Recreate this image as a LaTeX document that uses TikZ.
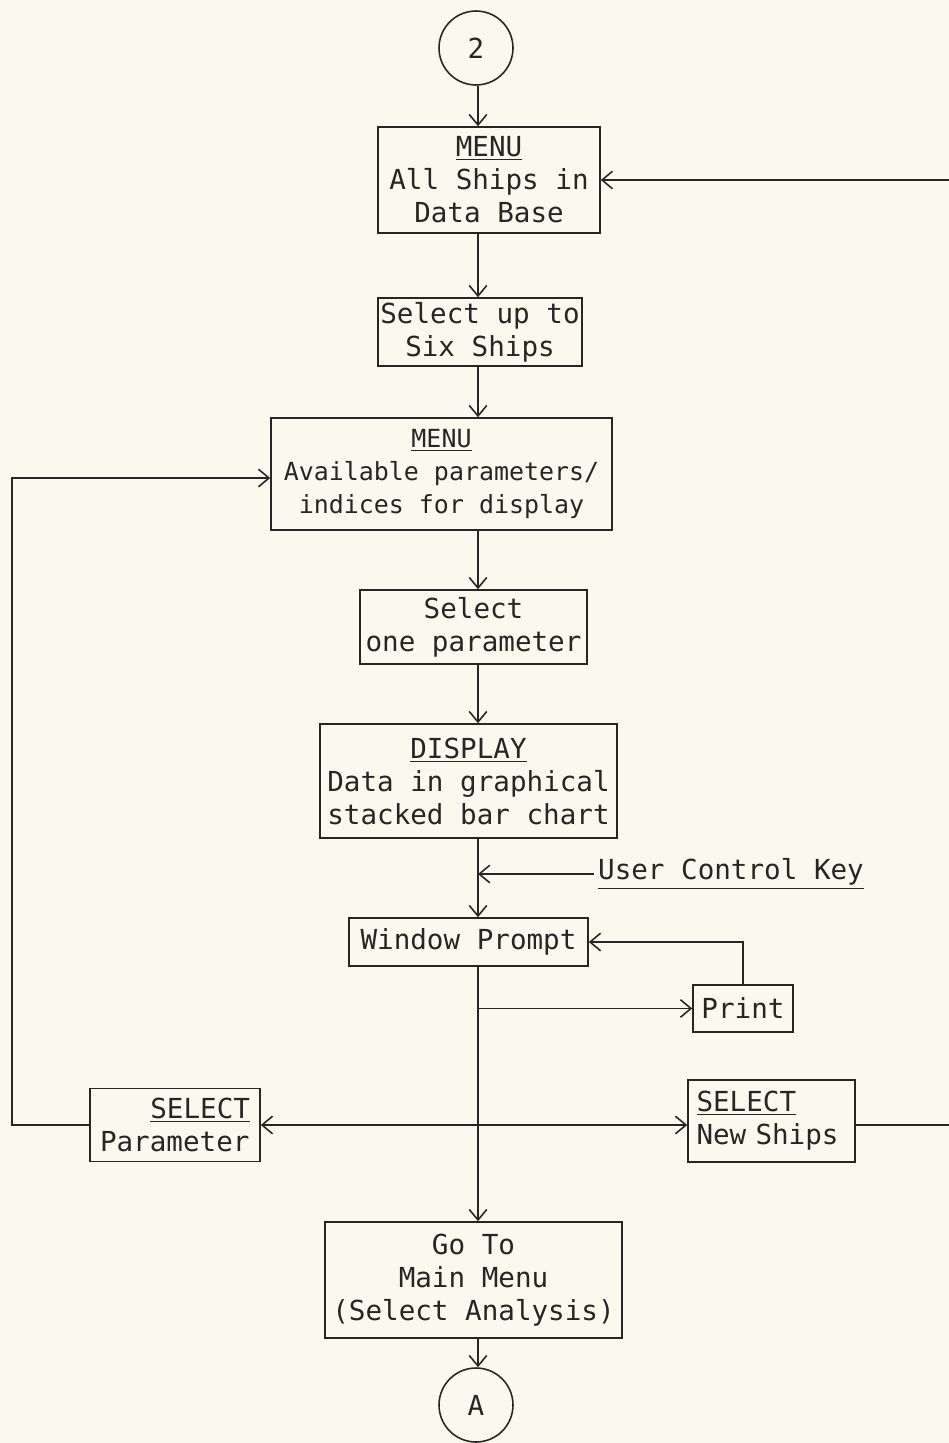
\documentclass[tikz,border=0pt]{standalone}
\usepackage{fontspec}
\setmonofont{DejaVu Sans Mono}
\usetikzlibrary{arrows.meta}

\definecolor{paper}{RGB}{250,249,238}
\definecolor{ink}{RGB}{38,38,38}
\newcommand{\plotfont}{\ttfamily\fontsize{15.7}{18.8}\selectfont}

\begin{document}
\begin{tikzpicture}[x=0.02cm, y=-0.02cm,
    box/.style={draw=ink, line width=0.9pt, rectangle, align=center, inner sep=0pt, font=\plotfont, text=ink},
    conn/.style={circle, draw=ink, line width=0.9pt, minimum size=1.48cm, inner sep=0pt, font=\plotfont, text=ink},
    arr/.style={-{Straight Barb[length=6pt, width=10pt]}, draw=ink, line width=0.9pt},
    line/.style={draw=ink, line width=0.9pt}]
    \fill[paper] (0,0) rectangle (949,1443);
    \useasboundingbox (0,0) rectangle (949,1443);

    % rails for the vertical flow and the two loops
    \coordinate (spine) at (478,0);
    \coordinate (leftrail) at (12,0);
    \coordinate (rightrail) at (958,0);

    % connectors (circles)
    \node[conn] (in2) at (476,48) {2};
    \node[conn] (outA) at (476,1405) {A};

    % main boxes
    \node[box, minimum width=4.44cm, minimum height=2.12cm] (menuShips) at (489,180)
        {\underline{MENU}\\All Ships in\\Data Base};
    \node[box, minimum width=4.08cm, minimum height=1.36cm] (pickShips) at (480,332)
        {Select up to\\Six Ships};
    \node[box, minimum width=6.82cm, minimum height=2.24cm, font=\ttfamily\fontsize{14.2}{18.8}\selectfont] (menuParams) at (441.5,474)
        {\underline{MENU}\\Available parameters/\\indices for display};
    \node[box, minimum width=4.54cm, minimum height=1.48cm] (pickParam) at (473.5,627)
        {Select\\one parameter};
    \node[box, minimum width=5.94cm, minimum height=2.28cm] (display) at (468.5,781)
        {\underline{DISPLAY}\\Data in graphical\\stacked bar chart};
    \node[box, minimum width=4.78cm, minimum height=0.96cm] (window) at (468.5,942)
        {Window Prompt};
    \node[box, minimum width=2.0cm, minimum height=0.94cm] (print) at (743,1008.5)
        {Print};
    \node[box, align=left, text width=3.0cm, inner xsep=0.2cm, minimum height=1.46cm] (selParam) at (175,1125)
        {\hfill\underline{SELECT}\\Parameter};
    \node[box, align=left, text width=3.0cm, inner xsep=0.17cm, minimum height=1.64cm] (selShips) at (771.5,1121)
        {\underline{SELECT}\\New Ships};
    \node[box, minimum width=5.94cm, minimum height=2.32cm] (goMain) at (473.5,1280)
        {Go To\\Main Menu\\(Select Analysis)};
    \node[font=\plotfont, text=ink, inner sep=2pt] (userKey) at (731,874)
        {\underline{User Control Key}};

    % flow down the spine
    \draw[arr] (spine |- in2.south) -- (spine |- menuShips.north);
    \draw[arr] (spine |- menuShips.south) -- (spine |- pickShips.north);
    \draw[arr] (spine |- pickShips.south) -- (spine |- menuParams.north);
    \draw[arr] (spine |- menuParams.south) -- (spine |- pickParam.north);
    \draw[arr] (spine |- pickParam.south) -- (spine |- display.north);
    \draw[arr] (spine |- display.south) -- (spine |- window.north);
    \draw[arr] (userKey.west) -- (spine |- userKey.west);
    \draw[arr] (spine |- window.south) -- (spine |- goMain.north);
    \draw[arr] (spine |- goMain.south) -- (spine |- outA.north);

    % print branch
    \draw[arr] (spine |- print.west) -- (print.west);
    \draw[arr] (print.north) |- (window.east);

    % select branches
    \draw[arr] (spine |- selParam.east) -- (selParam.east);
    \draw[arr] (spine |- selParam.east) -- (selParam.east -| selShips.west);
    \draw[arr] (selParam.west) -- (leftrail |- selParam.west) -- (leftrail |- 0,478) -- (menuParams.west |- 0,478);
    \draw[arr] (selShips.east |- 0,1125) -- (rightrail |- 0,1125) -- (rightrail |- menuShips.east) -- (menuShips.east);
\end{tikzpicture}
\end{document}
